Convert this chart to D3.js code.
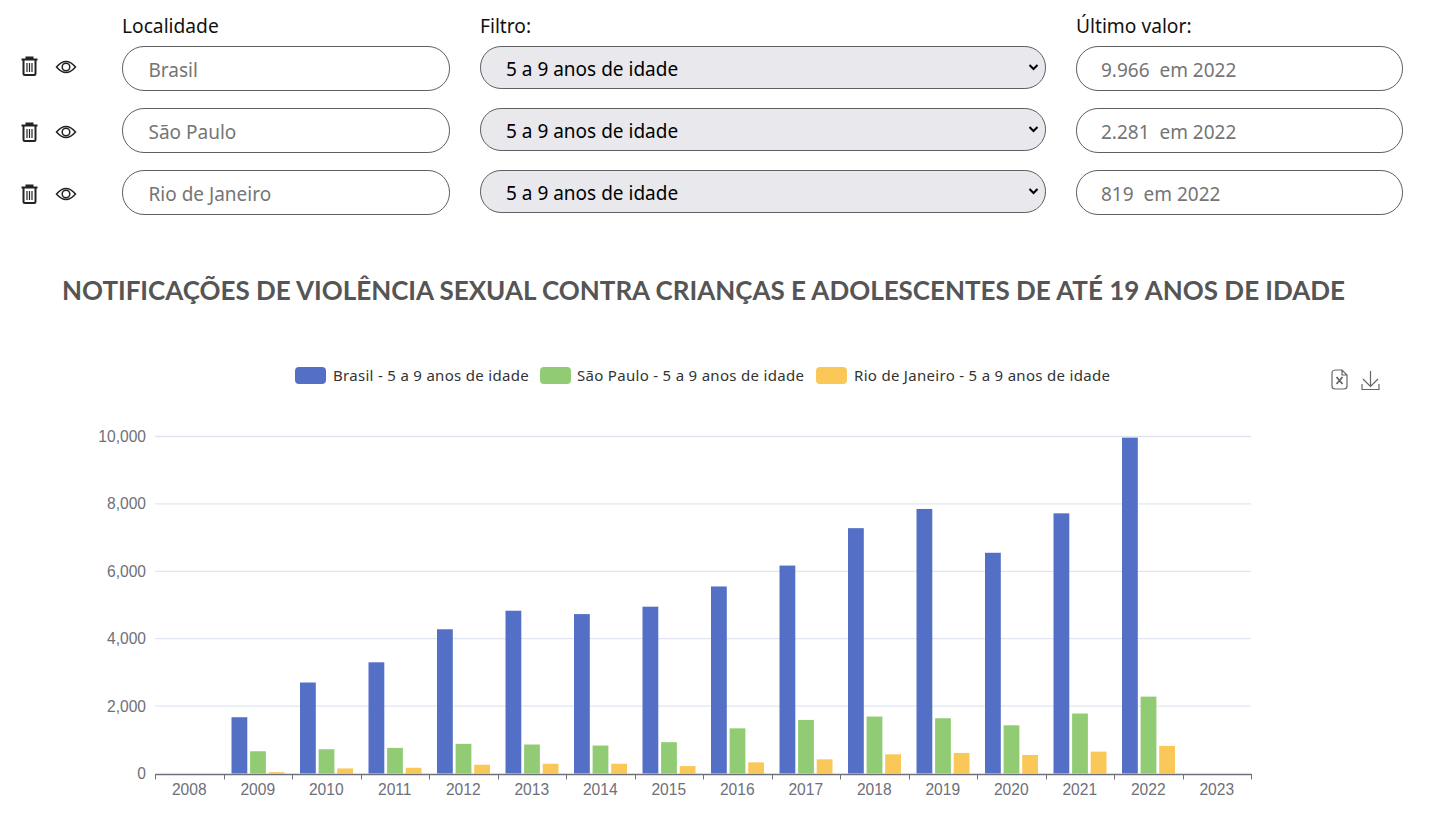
<!DOCTYPE html>
<html lang="pt-BR"><head><meta charset="utf-8">
<script src="https://cdn.jsdelivr.net/npm/d3@7/dist/d3.min.js"></script>
<style>html,body{margin:0;padding:0;background:#fff;overflow:hidden}svg{display:block}</style>
</head><body><svg id="c" width="1437" height="818"></svg>
<script>
const years=["2008","2009","2010","2011","2012","2013","2014","2015","2016","2017","2018","2019","2020","2021","2022","2023"];
const brasil=[null,1670,2700,3300,4280,4830,4730,4950,5550,6170,7280,7850,6550,7720,9966,null];
const saoPaulo=[null,660,720,760,880,860,830,930,1340,1590,1690,1640,1430,1780,2281,null];
const rio=[null,40,150,170,260,290,290,220,330,420,570,610,550,650,819,null];
const localidades=["Brasil","São Paulo","Rio de Janeiro"];
const ultimos=["9.966  em 2022","2.281  em 2022","819  em 2022"];
const filtro="5 a 9 anos de idade";
const headers=["Localidade","Filtro:","Último valor:"];
const titulo="NOTIFICAÇÕES DE VIOLÊNCIA SEXUAL CONTRA CRIANÇAS E ADOLESCENTES DE ATÉ 19 ANOS DE IDADE";
const cores=["#5470c6","#91cc75","#fac858"];
const yTicks=[0,2000,4000,6000,8000,10000];

const svg=d3.select("#c");
const UI="'Noto Sans',sans-serif", CH="'Liberation Sans',Arial,sans-serif";

// Form rows
const rowY=[46,108,170];
[[122,headers[0]],[480,headers[1]],[1076,headers[2]]].forEach(([x,t])=>{
  svg.append("text").attr("x",x).attr("y",33).attr("font-family",UI).attr("font-size",19.2).attr("fill","#111").text(t);
});
function pill(x,y,w,h,fill){
  svg.append("rect").attr("x",x+.5).attr("y",y+.5).attr("width",w-1).attr("height",h-1)
    .attr("rx",(h-1)/2*.98).attr("fill",fill).attr("stroke","#5f5f5f").attr("stroke-width",1);
}
rowY.forEach((y,i)=>{
  pill(122,y,328,45,"#fff");
  svg.append("text").attr("x",148.5).attr("y",y+31).attr("font-family",UI).attr("font-size",19).attr("fill","#757575").text(localidades[i]);
  pill(480,y,566,43,"#e8e8ed");
  svg.append("text").attr("x",506).attr("y",y+30).attr("font-family",UI).attr("font-size",19).attr("fill","#000").text(filtro);
  svg.append("path").attr("d",`M1029.5,${y+19} l4,4 l4,-4`).attr("fill","none").attr("stroke","#000").attr("stroke-width",2);
  pill(1076,y,327,45,"#fff");
  svg.append("text").attr("x",1101).attr("y",y+31).attr("font-family",UI).attr("font-size",19).attr("fill","#757575").attr("xml:space","preserve").style("white-space","pre").text(ultimos[i]);
  // trash icon
  const t=svg.append("g").attr("transform",`translate(21.5,${y+11+(i?1:0)*4})`).attr("fill","none").attr("stroke","#222").attr("stroke-width",2);
  t.append("path").attr("d","M0,2.5 H16 M5,2.5 V0.5 H11 V2.5");
  t.append("path").attr("d","M2,3 V16.5 Q2,18 3.5,18 H12.5 Q14,18 14,16.5 V3");
  t.append("path").attr("d","M5.5,6 V15 M8,6 V15 M10.5,6 V15").attr("stroke-width",1.2);
  // eye icon
  const e=svg.append("g").attr("transform",`translate(66,${y+21+(i?1:0)*3})`).attr("fill","none").attr("stroke","#222").attr("stroke-width",1.5);
  e.append("path").attr("d","M-9.5,0 Q0,-11 9.5,0 Q0,11 -9.5,0 Z");
  e.append("circle").attr("r",3.8);
});

// Title
svg.append("text").attr("x",62).attr("y",300).attr("font-family","Lato,sans-serif").attr("font-weight",700)
  .attr("font-size",26).attr("fill","#555").attr("textLength",1283).attr("lengthAdjust","spacing").text(titulo);

// Chart
const x=d3.scaleBand().domain(years).range([155,1251]);
const y=d3.scaleLinear().domain([0,10000]).range([773.5,436.5]);
const bw=15.8, gap=2.8, off=8;
const g=svg.append("g");
g.selectAll("line.grid").data(yTicks.filter(d=>d>0)).join("line").attr("class","grid")
  .attr("x1",155).attr("x2",1251).attr("y1",d=>y(d)).attr("y2",d=>y(d)).attr("stroke","#e0e6f1").attr("stroke-width",1.3);

[brasil,saoPaulo,rio].forEach((s,k)=>{
  g.selectAll(null).data(years.map((yr,i)=>({yr,v:s[i]})).filter(d=>d.v!=null)).join("rect")
    .attr("x",d=>x(d.yr)+off+k*(bw+gap)).attr("width",bw)
    .attr("y",d=>y(d.v)).attr("height",d=>y(0)-y(d.v)).attr("fill",cores[k]);
});

// Axes using d3 axis
const xAxis=g.append("g").attr("transform","translate(0,774)").call(
  d3.axisBottom(x).tickSize(0).tickPadding(10));
xAxis.select(".domain").attr("stroke","#6e7079").attr("stroke-width",1.5);
xAxis.selectAll("text").attr("font-family",CH).attr("font-size",15.6).attr("fill","#6e7079");
g.selectAll("line.xt").data(years.concat(["end"])).join("line").attr("class","xt")
  .attr("x1",d=>Math.round(d==="end"?1251:x(d))+.5).attr("x2",d=>Math.round(d==="end"?1251:x(d))+.5)
  .attr("y1",774).attr("y2",779.5).attr("stroke","#6e7079");

const yAxis=g.append("g").attr("transform","translate(155,0)").call(
  d3.axisLeft(y).tickValues(yTicks).tickSize(0).tickPadding(9).tickFormat(d3.format(",")));
yAxis.select(".domain").remove();
yAxis.selectAll("text").attr("font-family",CH).attr("font-size",15.6).attr("fill","#6e7079");

// Legend
const leg=[[295,333],[540,577],[816,854]];
localidades.forEach((l,i)=>{
  svg.append("rect").attr("x",leg[i][0]).attr("y",367).attr("width",31).attr("height",17).attr("rx",4).attr("fill",cores[i]);
  svg.append("text").attr("x",leg[i][1]).attr("y",381).attr("font-family",UI).attr("font-size",15).attr("letter-spacing",.3).attr("fill","#333").text(l+" - "+filtro);
});

// Toolbox icons
const ic=svg.append("g").attr("fill","none").attr("stroke","#666").attr("stroke-width",1.2);
ic.append("path").attr("d","M1336,370 H1342 L1347,375 V386 Q1347,389 1344,389 H1335 Q1332,389 1332,386 V373 Q1332,370 1336,370 Z M1342,370 V375 H1347");
ic.append("path").attr("d","M1336.5,377 L1342.5,384 M1342.5,377 L1336.5,384").attr("stroke-width",1.8);
ic.append("path").attr("d","M1370.5,371 V386 M1363,379 L1370.5,386.5 L1378,379 M1362,384 V389.5 H1379 V384");
</script></body></html>
